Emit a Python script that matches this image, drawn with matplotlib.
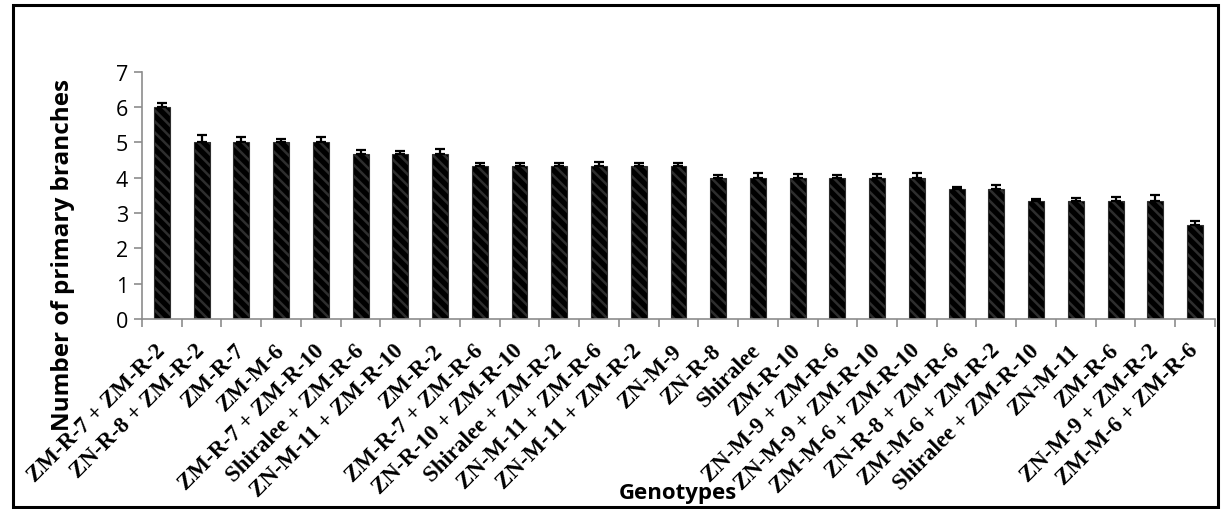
import numpy as np
import matplotlib
matplotlib.use("Agg")
import matplotlib.pyplot as plt
from matplotlib.patches import Rectangle

# genotypes, mean number of primary branches and standard error
genotypes = ["ZM-R-7 + ZM-R-2", "ZN-R-8 + ZM-R-2", "ZM-R-7", "ZM-M-6",
             "ZM-R-7 + ZM-R-10", "Shiralee + ZM-R-6", "ZN-M-11 + ZM-R-10",
             "ZM-R-2", "ZM-R-7 + ZM-R-6", "ZN-R-10 + ZM-R-10",
             "Shiralee + ZM-R-2", "ZN-M-11 + ZM-R-6", "ZN-M-11 + ZM-R-2",
             "ZN-M-9", "ZN-R-8", "Shiralee", "ZM-R-10", "ZN-M-9 + ZM-R-6",
             "ZN-M-9 + ZM-R-10", "ZM-M-6 + ZM-R-10", "ZN-R-8 + ZM-R-6",
             "ZM-M-6 + ZM-R-2", "Shiralee + ZM-R-10", "ZN-M-11", "ZM-R-6",
             "ZN-M-9 + ZM-R-2", "ZM-M-6 + ZM-R-6"]
branches = [6.0, 5.0, 5.0, 5.0, 5.0, 4.67, 4.67, 4.67, 4.33, 4.33, 4.33,
            4.33, 4.33, 4.33, 4.0, 4.0, 4.0, 4.0, 4.0, 4.0, 3.67, 3.67,
            3.33, 3.33, 3.33, 3.33, 2.67]
std_err = [0.11, 0.2, 0.16, 0.1, 0.15, 0.11, 0.08, 0.14, 0.08, 0.08, 0.08,
           0.1, 0.08, 0.08, 0.08, 0.12, 0.1, 0.08, 0.1, 0.14, 0.08, 0.11,
           0.07, 0.1, 0.13, 0.18, 0.1]

plt.rcParams["hatch.linewidth"] = 1.8

fig = plt.figure(figsize=(12.21, 5.10), dpi=100)
ax = fig.add_axes([0.1163, 0.3725, 0.8787, 0.485])

x = np.arange(len(genotypes))
ax.bar(x, branches, width=0.4, color="black", edgecolor="#2e2e2e",
       hatch="\\\\\\", linewidth=0.8, zorder=2)
ax.errorbar(x, branches, yerr=[np.zeros(len(std_err)), std_err], fmt="none",
            ecolor="black", elinewidth=1.6, capsize=3.5, capthick=1.6, zorder=3)

ax.set_xlim(-0.5, len(genotypes) - 0.5)
ax.set_ylim(0, 7)
ax.set_yticks(range(0, 8))
ax.set_yticklabels([str(v) for v in range(0, 8)], fontsize=15.5, family="Open Sans")

# category labels at the bar centres, tick marks between categories
ax.set_xticks(x)
ax.set_xticklabels(genotypes, rotation=45, ha="right", va="center",
                   rotation_mode="anchor", family="Liberation Serif",
                   fontweight="bold", fontsize=16.5)
ax.tick_params(axis="x", which="major", length=0, pad=20)
ax.set_xticks(np.arange(-0.5, len(genotypes)), minor=True)
ax.tick_params(axis="x", which="minor", length=6, width=1.2, color="#8c8c8c")
ax.tick_params(axis="y", length=6, width=1.2, color="#8c8c8c", pad=4)

for s in ["top", "right"]:
    ax.spines[s].set_visible(False)
for s in ["left", "bottom"]:
    ax.spines[s].set_color("#8c8c8c")
    ax.spines[s].set_linewidth(1.2)

ax.set_ylabel("Number of primary branches", fontsize=17.5, fontweight="bold",
              family="Open Sans", va="center")
ax.yaxis.set_label_coords(-0.0736, 0.263)
fig.text(0.555, 0.033, "Genotypes", ha="center", va="center", fontsize=16,
         fontweight="bold", family="Open Sans")

# thick frame round the whole chart
fig.patches.append(Rectangle((13 / 1221, 2 / 510), 1205 / 1221, 502 / 510,
                             transform=fig.transFigure, fill=False,
                             edgecolor="black", linewidth=2.2))

fig.savefig("out.png", dpi=100)
